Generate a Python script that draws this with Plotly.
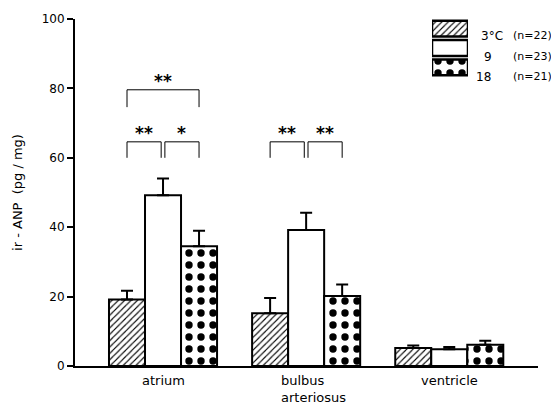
import plotly.graph_objects as go

categories = ["atrium", "bulbus<br>arteriosus", "ventricle"]
series_names = ["3°C", "9", "18"]
series_n = ["(n=22)", "(n=23)", "(n=21)"]
means = {
    "3°C": [19.2, 15.2, 5.2],
    "9": [49.2, 39.2, 4.8],
    "18": [34.5, 20.2, 6.1],
}
errors = {
    "3°C": [2.5, 4.4, 0.7],
    "9": [4.8, 5.0, 0.7],
    "18": [4.5, 3.3, 1.2],
}
y_ticks = [0, 20, 40, 60, 80, 100]
# (group, from series, to series, bracket level, leg bottom, label)
brackets = [
    (0, 0, 2, 79.6, 74.6, "**"),
    (0, 0, 1, 64.6, 60.0, "**"),
    (0, 1, 2, 64.6, 60.0, "*"),
    (1, 0, 1, 64.6, 60.0, "**"),
    (1, 1, 2, 64.6, 60.0, "**"),
]

FONT = "DejaVu Sans"
styles = [
    dict(shape="/", size=4.5, solidity=0.25, fgcolor="black", bgcolor="white", fgopacity=1),
    dict(shape="", bgcolor="white"),
    dict(shape=".", size=12, solidity=0.3, fgcolor="black", bgcolor="white", fgopacity=1),
]

W, H = 551, 405
ml, mr, mt, mb = 75, 13, 13, 39
pw = W - ml - mr
bargap = 0.245
bw = (1 - bargap) / 3

fig = go.Figure()
xs = list(range(len(categories)))
for i, name in enumerate(series_names):
    fig.add_trace(go.Bar(
        x=xs, y=means[name], name=name,
        marker=dict(color="white", line=dict(color="black", width=2),
                    pattern=styles[i]),
        error_y=dict(type="data", symmetric=False, array=errors[name],
                     arrayminus=[0] * len(xs), color="black",
                     thickness=2, width=6),
        showlegend=False,
    ))

# legend as inset bars
for i, name in enumerate(series_names):
    fig.add_trace(go.Bar(
        x=[1], y=[2 - i], orientation="h", xaxis="x2", yaxis="y2",
        marker=dict(color="white", line=dict(color="black", width=2.5),
                    pattern=styles[i]),
        showlegend=False, hoverinfo="skip", width=0.82,
    ))

def px2paper(px):
    return (px - ml) / pw

for i, name in enumerate(series_names):
    yc = 1 - (21 + i * 21 - mt) / (H - mt - mb)
    fig.add_annotation(xref="paper", yref="paper", x=px2paper({0: 479, 1: 482, 2: 474}[i]),
                       y=yc, text=name, showarrow=False, xanchor="left",
                       font=dict(family=FONT, size=12, color="black"))
    fig.add_annotation(xref="paper", yref="paper", x=px2paper(511), y=yc,
                       text=series_n[i], showarrow=False, xanchor="left",
                       font=dict(family=FONT, size=11, color="black"))

# significance brackets
gap = 0.013
for g, a, b, lvl, leg, lab in brackets:
    xa = g + (a - 1) * bw + (gap if b - a == 1 and a == 1 else 0)
    xb = g + (b - 1) * bw - (gap if b - a == 1 and b == 1 else 0)
    fig.add_shape(type="path", xref="x", yref="y",
                  path=f"M {xa} {leg} L {xa} {lvl} L {xb} {lvl} L {xb} {leg}",
                  line=dict(color="black", width=1))
    fig.add_annotation(x=(xa + xb) / 2, y=lvl, xref="x", yref="y", text="<b>" + lab + "</b>",
                       showarrow=False, yanchor="bottom", yshift=-3,
                       font=dict(family=FONT, size=17, color="black"))

# category labels
for i, c in enumerate(categories):
    fig.add_annotation(x=i, y=0, xref="x", yref="paper", text=c, showarrow=False,
                       yanchor="top", yshift=-5, align="left",
                       font=dict(family=FONT, size=13, color="black"),
                       xshift=7 if i == 1 else 0)

fig.update_layout(
    width=W, height=H,
    margin=dict(l=ml, r=mr, t=mt, b=mb),
    paper_bgcolor="white", plot_bgcolor="white",
    barmode="group", bargap=bargap, bargroupgap=0,
    xaxis=dict(range=[-0.615, 2.62], showticklabels=False, ticks="",
               showline=True, linecolor="black", linewidth=1.5,
               showgrid=False, zeroline=False),
    yaxis=dict(range=[0, 100], tickvals=y_ticks, ticks="outside", ticklen=6,
               tickwidth=1.5, tickcolor="black",
               showline=True, linecolor="black", linewidth=2,
               showgrid=False, zeroline=False,
               tickfont=dict(family=FONT, size=12, color="black"),
               title=dict(text="ir - ANP  (pg / mg)", standoff=16,
                          font=dict(family=FONT, size=13, color="black"))),
    xaxis2=dict(domain=[px2paper(432), px2paper(468)], range=[0, 1],
                visible=False, anchor="y2"),
    yaxis2=dict(domain=[1 - (72 - mt) / (H - mt - mb), 1.0], range=[-0.5, 2.5],
                visible=False, anchor="x2"),
)

fig.write_html("out.html")
